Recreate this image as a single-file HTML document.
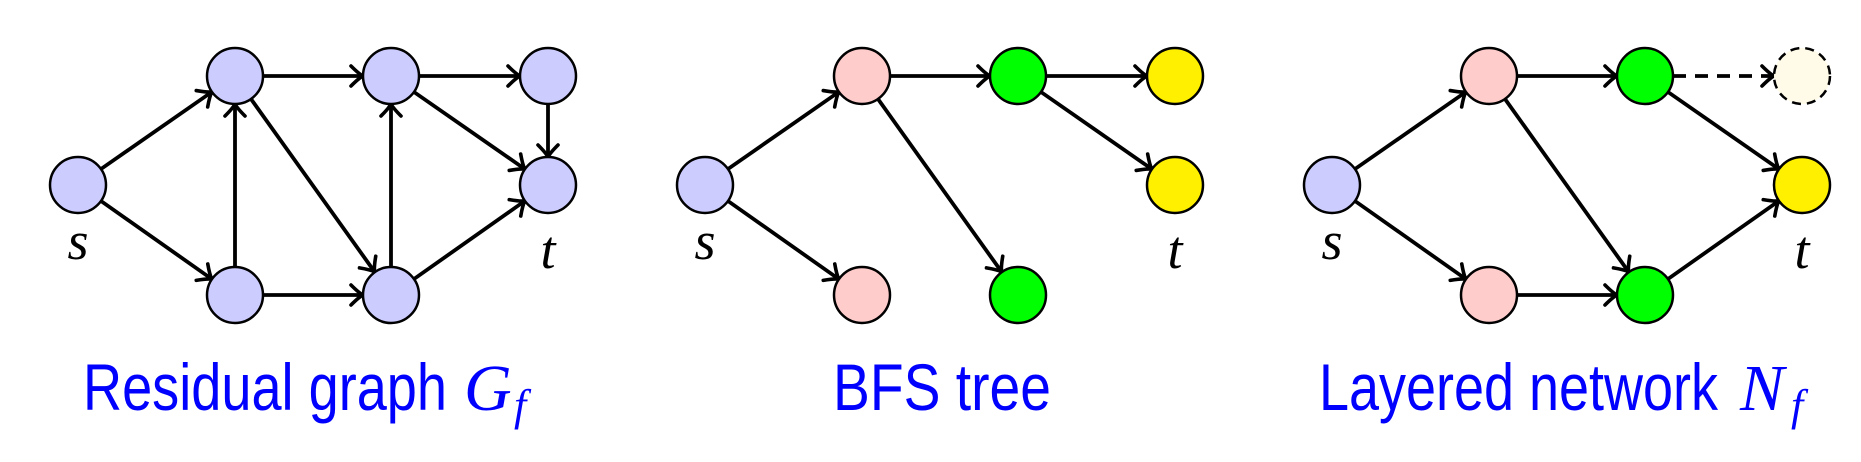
<!DOCTYPE html>
<html><head><meta charset="utf-8"><style>html,body{margin:0;padding:0;background:#fff}</style></head>
<body>
<svg width="1861" height="457" viewBox="0 0 1861 457" xmlns="http://www.w3.org/2000/svg">
<defs>
<marker id="ar" markerUnits="userSpaceOnUse" markerWidth="30" markerHeight="30" refX="0" refY="0" viewBox="-15 -15 30 30" orient="auto" overflow="visible">
<path d="M-11,-10 Q-3,-2 1,0 Q-3,2 -11,10" fill="none" stroke="#000" stroke-width="3.6" stroke-linecap="round"/>
</marker>
<g id="lab">
<text x="78" y="259" font-family="Liberation Serif, serif" font-style="italic" font-size="54" text-anchor="middle">s</text>
<text x="548" y="268" font-family="Liberation Serif, serif" font-style="italic" font-size="54" text-anchor="middle">t</text>
</g>
</defs>
<g stroke="#000" stroke-width="3.8" fill="none" marker-end="url(#ar)">
<line x1="101" y1="169" x2="211" y2="92.5"/>
<line x1="101" y1="201" x2="211" y2="278.5"/>
<line x1="263" y1="76" x2="362" y2="76"/>
<line x1="419" y1="76" x2="519" y2="76"/>
<line x1="235" y1="267" x2="235" y2="105"/>
<line x1="251" y1="99" x2="374" y2="271"/>
<line x1="263" y1="295" x2="362" y2="295"/>
<line x1="391" y1="267" x2="391" y2="105"/>
<line x1="414" y1="92" x2="524" y2="168.5"/>
<line x1="548" y1="104" x2="548" y2="156"/>
<line x1="414" y1="279" x2="524" y2="201.5"/>
</g>
<g transform="translate(627,0)" stroke="#000" stroke-width="3.8" fill="none" marker-end="url(#ar)">
<line x1="101" y1="169" x2="211" y2="92.5"/>
<line x1="101" y1="201" x2="211" y2="278.5"/>
<line x1="263" y1="76" x2="362" y2="76"/>
<line x1="419" y1="76" x2="519" y2="76"/>
<line x1="251" y1="99" x2="374" y2="271"/>
<line x1="414" y1="92" x2="524" y2="168.5"/>
</g>
<g transform="translate(1254,0)" stroke="#000" stroke-width="3.8" fill="none" marker-end="url(#ar)">
<line x1="101" y1="169" x2="211" y2="92.5"/>
<line x1="101" y1="201" x2="211" y2="278.5"/>
<line x1="263" y1="76" x2="362" y2="76"/>
<line x1="419" y1="76" x2="519" y2="76" stroke-dasharray="13,9"/>
<line x1="251" y1="99" x2="374" y2="271"/>
<line x1="263" y1="295" x2="362" y2="295"/>
<line x1="414" y1="92" x2="524" y2="168.5"/>
<line x1="414" y1="279" x2="524" y2="201.5"/>
</g>
<g stroke="#000" stroke-width="2.5" fill="#ccccff">
<ellipse cx="78" cy="185" rx="28" ry="28"/>
<ellipse cx="235" cy="76" rx="28" ry="28"/>
<ellipse cx="235" cy="295" rx="28" ry="28"/>
<ellipse cx="391" cy="76" rx="28" ry="28"/>
<ellipse cx="391" cy="295" rx="28" ry="28"/>
<ellipse cx="548" cy="76" rx="28" ry="28"/>
<ellipse cx="548" cy="185" rx="28" ry="28"/>
</g>
<g transform="translate(627,0)" stroke="#000" stroke-width="2.5">
<ellipse cx="78" cy="185" rx="28" ry="28" fill="#ccccff"/>
<ellipse cx="235" cy="76" rx="28" ry="28" fill="#ffcccc"/>
<ellipse cx="235" cy="295" rx="28" ry="28" fill="#ffcccc"/>
<ellipse cx="391" cy="76" rx="28" ry="28" fill="#00ff00"/>
<ellipse cx="391" cy="295" rx="28" ry="28" fill="#00ff00"/>
<ellipse cx="548" cy="76" rx="28" ry="28" fill="#fff000"/>
<ellipse cx="548" cy="185" rx="28" ry="28" fill="#fff000"/>
</g>
<g transform="translate(1254,0)" stroke="#000" stroke-width="2.5">
<ellipse cx="78" cy="185" rx="28" ry="28" fill="#ccccff"/>
<ellipse cx="235" cy="76" rx="28" ry="28" fill="#ffcccc"/>
<ellipse cx="235" cy="295" rx="28" ry="28" fill="#ffcccc"/>
<ellipse cx="391" cy="76" rx="28" ry="28" fill="#00ff00"/>
<ellipse cx="391" cy="295" rx="28" ry="28" fill="#00ff00"/>
<ellipse cx="548" cy="76" rx="28" ry="28" fill="#fffbe8" stroke-dasharray="9,6"/>
<ellipse cx="548" cy="185" rx="28" ry="28" fill="#fff000"/>
</g>
<use href="#lab"/>
<use href="#lab" transform="translate(627,0)"/>
<use href="#lab" transform="translate(1254,0)"/>
<g fill="#0000ff">
<text x="83" y="410" font-family="Liberation Sans, sans-serif" font-size="66" textLength="364" lengthAdjust="spacingAndGlyphs">Residual graph</text>
<text x="464" y="410" font-family="Liberation Serif, serif" font-style="italic" font-size="66">G</text>
<text x="514" y="420" font-family="Liberation Serif, serif" font-style="italic" font-size="44">f</text>
<text x="833" y="410" font-family="Liberation Sans, sans-serif" font-size="66" textLength="218" lengthAdjust="spacingAndGlyphs">BFS tree</text>
<text x="1319" y="410" font-family="Liberation Sans, sans-serif" font-size="66" textLength="399" lengthAdjust="spacingAndGlyphs">Layered network</text>
<text x="1740" y="410" font-family="Liberation Serif, serif" font-style="italic" font-size="66">N</text>
<text x="1791" y="420" font-family="Liberation Serif, serif" font-style="italic" font-size="44">f</text>
</g>
</svg>
</body></html>
